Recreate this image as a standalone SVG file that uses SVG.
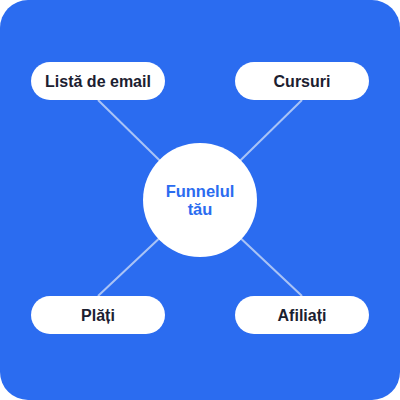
<svg xmlns="http://www.w3.org/2000/svg" width="400" height="400" viewBox="0 0 400 400">
<style>
.pill{fill:#ffffff}
.lbl{font-family:"Liberation Sans",Arial,sans-serif;font-weight:bold;font-size:16px;fill:#1b2030;text-anchor:middle}
.ctr{font-family:"Liberation Sans",Arial,sans-serif;font-weight:bold;font-size:16.5px;fill:#2b6cf0;text-anchor:middle}
.edge{stroke:#a9c3f6;stroke-width:2;fill:none}
</style>
<rect x="0" y="0" width="400" height="400" rx="28" fill="#2b6cf0"/>
<g id="connectors">
<line class="edge" x1="98" y1="100" x2="200" y2="200"/>
<line class="edge" x1="302" y1="100" x2="200" y2="200"/>
<line class="edge" x1="98" y1="296" x2="200" y2="200"/>
<line class="edge" x1="302" y1="296" x2="200" y2="200"/>
</g>
<g id="center">
<circle cx="200" cy="200" r="57" fill="#ffffff"/>
<text class="ctr" x="200" y="196.5">Funnelul</text>
<text class="ctr" x="200" y="214.5">tău</text>
</g>
<g id="lista">
<rect class="pill" x="31" y="62" width="134" height="38" rx="19"/>
<text class="lbl" x="98" y="87">Listă de email</text>
</g>
<g id="cursuri">
<rect class="pill" x="235" y="62" width="134" height="38" rx="19"/>
<text class="lbl" x="302" y="87">Cursuri</text>
</g>
<g id="plati">
<rect class="pill" x="31" y="296" width="134" height="38" rx="19"/>
<text class="lbl" x="98" y="321">Plăți</text>
</g>
<g id="afiliati">
<rect class="pill" x="235" y="296" width="134" height="38" rx="19"/>
<text class="lbl" x="302" y="321">Afiliați</text>
</g>
</svg>
